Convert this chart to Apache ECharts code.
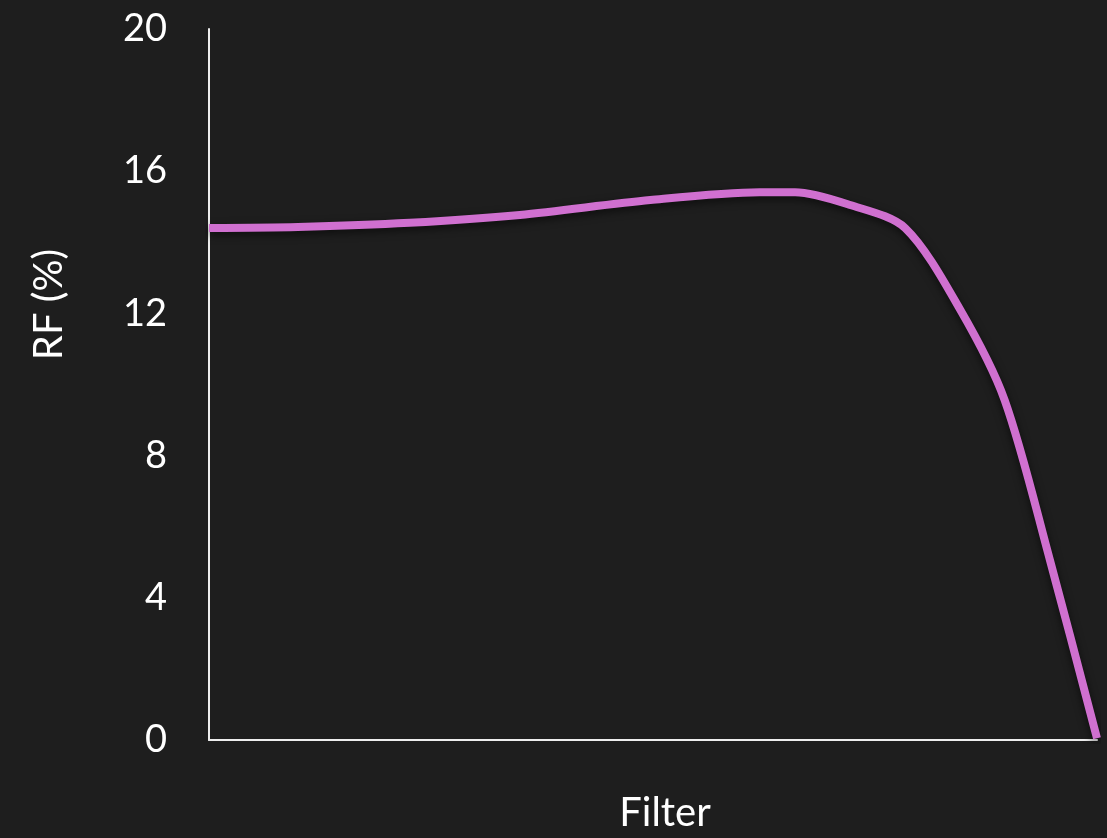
<!DOCTYPE html>
<html>
<head>
<meta charset="utf-8">
<script src="https://cdn.jsdelivr.net/npm/echarts@6/dist/echarts.min.js"></script>
<style>
html,body{margin:0;padding:0;background:#1e1e1e;}
#chart{width:1107px;height:838px;}
</style>
</head>
<body>
<div id="chart"></div>
<script>
// Data (x position along the "Filter" axis, 0-100; RF in %)
var filterPos = [0, 10, 22.6, 35, 49.7, 62, 66, 72.2, 78.4, 84.6, 89.6, 94.7, 100];
var rfValues  = [14.4, 14.43, 14.55, 14.77, 15.19, 15.41, 15.41, 15.05, 14.4, 12.1, 9.56, 5.06, 0.05];
var yTicks = [0, 4, 8, 12, 16, 20];

var seriesData = filterPos.map(function (x, i) { return [x, rfValues[i]]; });

var chart = echarts.init(document.getElementById('chart'));
var font = 'Lato, "Open Sans", sans-serif';
chart.setOption({
  backgroundColor: '#1e1e1e',
  animation: false,
  grid: { left: 209, right: 10, top: 29, bottom: 98, containLabel: false, outerBoundsMode: 'none' },
  xAxis: {
    type: 'value', min: 0, max: 100,
    name: 'Filter', nameLocation: 'middle', nameGap: 53,
    nameTextStyle: { color: '#ffffff', fontSize: 40, fontFamily: font, padding: [0, 0, 0, 24] },
    axisLine: { show: true, lineStyle: { color: '#eeeeee', width: 2 } },
    axisTick: { show: false }, axisLabel: { show: false }, splitLine: { show: false }
  },
  yAxis: {
    type: 'value', min: yTicks[0], max: yTicks[yTicks.length - 1], interval: 4,
    name: 'RF (%)', nameLocation: 'middle', nameGap: 140, nameRotate: 90,
    nameTextStyle: { color: '#ffffff', fontSize: 40, fontFamily: font, padding: [0, 0, 0, 160] },
    axisLine: { show: true, lineStyle: { color: '#eeeeee', width: 2 } },
    axisTick: { show: false },
    axisLabel: { color: '#ffffff', fontSize: 38, fontFamily: font, margin: 42 },
    splitLine: { show: false }
  },
  series: [{
    type: 'line', data: seriesData, smooth: 0.3, symbol: 'none',
    lineStyle: { color: '#d070d0', width: 8, shadowColor: 'rgba(0,0,0,0.6)', shadowBlur: 8, shadowOffsetY: 3 }
  }]
});
</script>
</body>
</html>
